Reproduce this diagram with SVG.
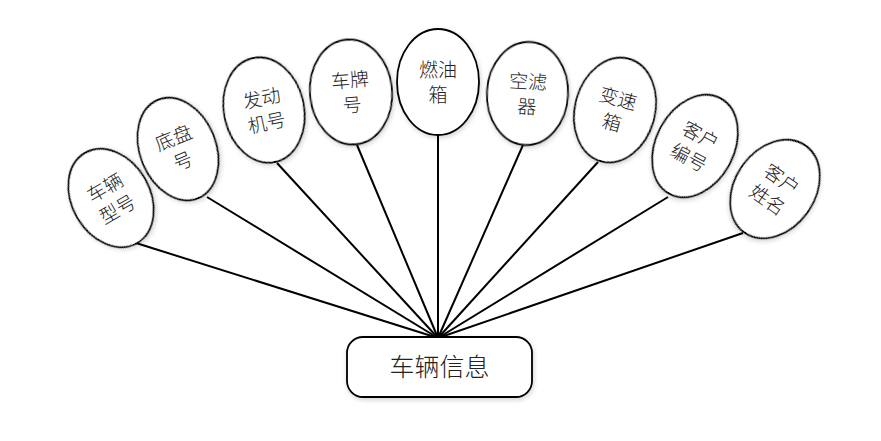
<svg xmlns="http://www.w3.org/2000/svg" width="881" height="441" viewBox="0 0 881 441">
<defs>
<filter id="sh" x="-20%" y="-20%" width="140%" height="140%">
<feGaussianBlur in="SourceAlpha" stdDeviation="2.5"/>
<feOffset dx="1" dy="2"/>
<feComponentTransfer><feFuncA type="linear" slope="0.18"/></feComponentTransfer>
<feMerge><feMergeNode/><feMergeNode in="SourceGraphic"/></feMerge>
</filter>
</defs>
<style>
.e{fill:#fff;stroke:#000;stroke-width:1.8;filter:url(#sh)}
.t{font-family:"Noto Sans CJK SC","Noto Sans",sans-serif;font-size:19px;font-weight:300;fill:#222;text-anchor:middle}
.c{stroke:#000;stroke-width:2;fill:none}
</style>
<rect width="881" height="441" fill="#fff"/>
<g id="connectors">
<line class="c" x1="136" y1="243" x2="438" y2="338"/>
<line class="c" x1="207" y1="197" x2="438" y2="338"/>
<line class="c" x1="277" y1="163" x2="438" y2="338"/>
<line class="c" x1="357" y1="145" x2="438" y2="338"/>
<line class="c" x1="438" y1="135" x2="438" y2="338"/>
<line class="c" x1="523" y1="145" x2="438" y2="338"/>
<line class="c" x1="598" y1="162" x2="438" y2="338"/>
<line class="c" x1="668" y1="197" x2="438" y2="338"/>
<line class="c" x1="743" y1="233" x2="438" y2="338"/>
</g>
<g id="n1" transform="translate(111,198) rotate(-30)">
<ellipse class="e" rx="39" ry="52"/>
<text class="t" y="-5">车辆</text><text class="t" y="20">型号</text>
</g>
<g id="n2" transform="translate(178,149) rotate(-22)">
<ellipse class="e" rx="38" ry="53"/>
<text class="t" y="-5">底盘</text><text class="t" y="20">号</text>
</g>
<g id="n3" transform="translate(264,110) rotate(-12)">
<ellipse class="e" rx="40" ry="53"/>
<text class="t" y="-5">发动</text><text class="t" y="20">机号</text>
</g>
<g id="n4" transform="translate(351,92) rotate(-5)">
<ellipse class="e" rx="41" ry="52.5"/>
<text class="t" y="-5">车牌</text><text class="t" y="20">号</text>
</g>
<g id="n5" transform="translate(438,82)">
<ellipse class="e" rx="41" ry="53"/>
<text class="t" y="-5">燃油</text><text class="t" y="20">箱</text>
</g>
<g id="n6" transform="translate(527.5,93.5) rotate(3)">
<ellipse class="e" rx="40.5" ry="51.5"/>
<text class="t" y="-5">空滤</text><text class="t" y="20">器</text>
</g>
<g id="n7" transform="translate(615,110) rotate(15)">
<ellipse class="e" rx="40" ry="53"/>
<text class="t" y="-5">变速</text><text class="t" y="20">箱</text>
</g>
<g id="n8" transform="translate(695,146) rotate(28)">
<ellipse class="e" rx="39" ry="54"/>
<text class="t" y="-5">客户</text><text class="t" y="20">编号</text>
</g>
<g id="n9" transform="translate(775,189) rotate(35)">
<ellipse class="e" rx="40" ry="53"/>
<text class="t" y="-5">客户</text><text class="t" y="20">姓名</text>
</g>
<g id="center">
<rect class="e" x="347" y="337" width="185" height="60" rx="16"/>
<text class="t" x="439.5" y="376" style="font-size:25px">车辆信息</text>
</g>
</svg>
